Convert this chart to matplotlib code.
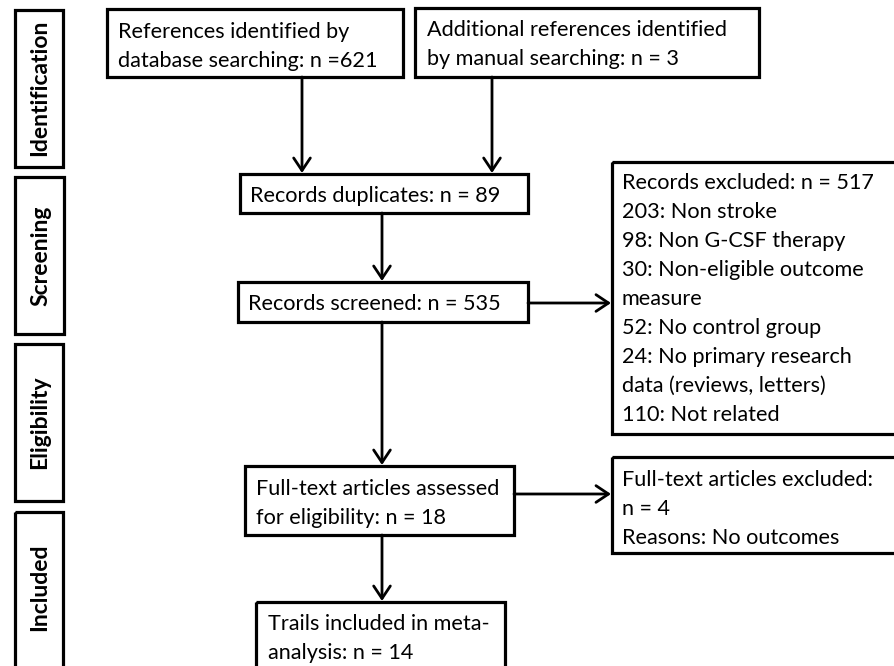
import matplotlib
matplotlib.use("Agg")
import matplotlib.pyplot as plt
from matplotlib.patches import Rectangle

# ---- data ----
stages = ["Identification", "Screening", "Eligibility", "Included"]
n_database = 621
n_manual = 3
n_duplicates = 89
n_screened = 535
n_excluded = 517
excl_counts = [203, 98, 30, 52, 24, 110]
excl_reasons = ["Non stroke", "Non G-CSF therapy", "Non-eligible outcome\nmeasure",
                "No control group", "No primary research\ndata (reviews, letters)",
                "Not related"]
n_fulltext = 18
n_ft_excluded = 4
ft_reason = "No outcomes"
n_included = 14

FONT = ["Lato", "DejaVu Sans"]
FS = 15.6
LINE = 29

fig = plt.figure(figsize=(8.95, 6.66), dpi=100)
ax = fig.add_axes([0, 0, 1, 1])
ax.set_xlim(0, 895)
ax.set_ylim(666, 0)
ax.axis("off")

BOX_LW = 2.3
ARR_LW = 2.0


def box(x0, y0, x1, y1, lines=None, first_baseline=None, pad=11):
    ax.add_patch(Rectangle((x0, y0), x1 - x0, y1 - y0, fill=False,
                           lw=BOX_LW, ec="black", clip_on=False))
    if lines:
        for i, ln in enumerate(lines):
            ax.text(x0 + pad, first_baseline + i * LINE, ln, ha="left",
                    va="baseline", fontsize=FS, family=FONT, color="black")


def arrow(x0, y0, x1, y1):
    ax.annotate("", xy=(x1, y1), xytext=(x0, y0),
                arrowprops=dict(arrowstyle="->,head_length=0.45,head_width=0.3",
                                lw=ARR_LW, color="black", mutation_scale=20,
                                shrinkA=0, shrinkB=0))


# stage label boxes
stage_boxes = [(15, 10, 63, 167), (15, 177, 64, 334), (15, 344, 63, 501), (15, 512, 63, 700)]
stage_centers = [88, 256, 422, 587]
for name, (x0, y0, x1, y1), cy in zip(stages, stage_boxes, stage_centers):
    ax.add_patch(Rectangle((x0, y0), x1 - x0, y1 - y0, fill=False, lw=BOX_LW, ec="black"))
    ax.text((x0 + x1) / 2 + 1, cy, name, rotation=90, ha="center", va="center",
            fontsize=16.5, fontweight="bold", family=FONT)

# flow boxes
box(107, 9, 403, 77, ["References identified by",
                      f"database searching: n ={n_database}"], 38)
box(415, 8, 759, 77, ["Additional references identified",
                      f"by manual searching: n = {n_manual}"], 36, pad=12)
box(240, 174, 528, 213, [f"Records duplicates: n = {n_duplicates}"], 202, pad=10)
box(238, 282, 528, 322, [f"Records screened: n = {n_screened}"], 310, pad=10)

excl_lines = [f"Records excluded: n = {n_excluded}"]
for c, r in zip(excl_counts, excl_reasons):
    excl_lines.extend(f"{c}: {r}".split("\n"))
box(612, 162, 905, 434, excl_lines, 189, pad=10)

box(245, 466, 514, 535, ["Full-text articles assessed",
                         f"for eligibility: n = {n_fulltext}"], 495)
box(612, 457, 905, 553, ["Full-text articles excluded:",
                         f"n = {n_ft_excluded}",
                         f"Reasons: {ft_reason}"], 486, pad=10)
box(256, 602, 505, 700, ["Trails included in meta-",
                         f"analysis: n = {n_included}"], 630, pad=12)

# arrows
arrow(302, 77, 302, 173)
arrow(492, 77, 492, 173)
arrow(382, 213, 382, 281)
arrow(528, 303, 611, 303)
arrow(382, 322, 382, 465)
arrow(514, 494, 611, 494)
arrow(382, 535, 382, 601)

fig.savefig("out.png", dpi=100, facecolor="white")
